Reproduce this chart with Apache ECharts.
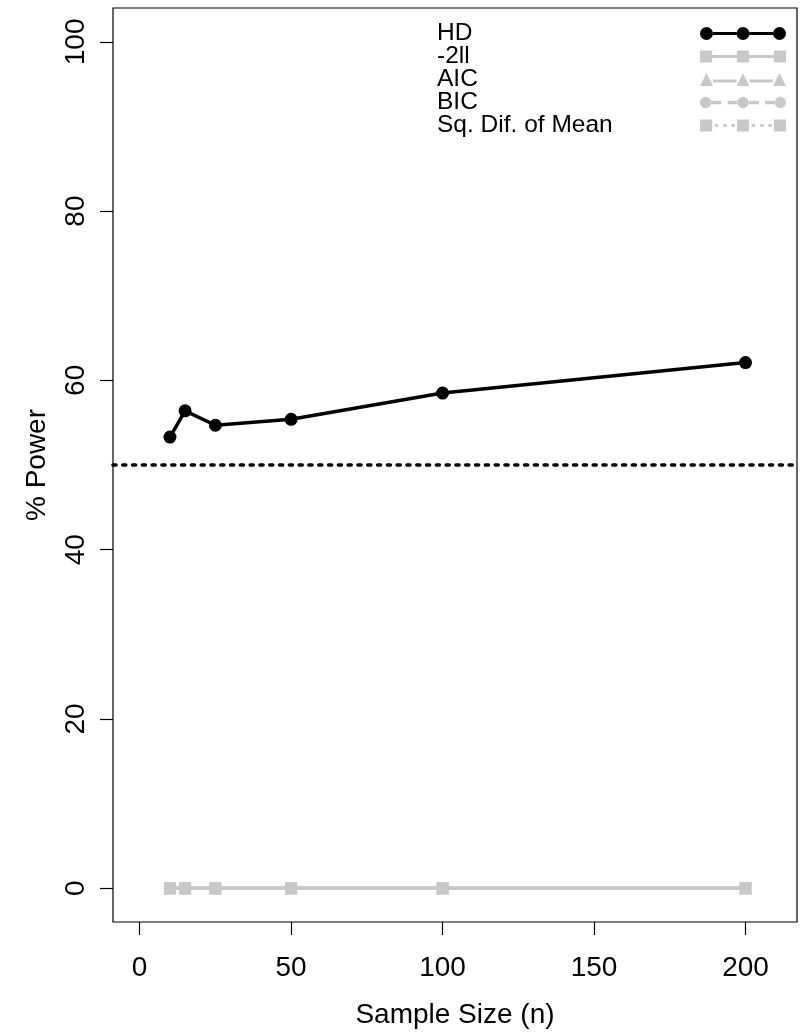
<!DOCTYPE html>
<html>
<head>
<meta charset="utf-8">
<script src="https://cdn.jsdelivr.net/npm/echarts@6/dist/echarts.min.js"></script>
<style>html,body{margin:0;padding:0;background:#fff;}#c{width:801px;height:1033px;}</style>
</head>
<body>
<div id="c"></div>
<script>
// ---- data ----
const sampleSizes = [10, 15, 25, 50, 100, 200];
const seriesNames = ['HD', '-2ll', 'AIC', 'BIC', 'Sq. Dif. of Mean'];
const hdPower = [53.3, 56.4, 54.7, 55.4, 58.5, 62.1];
const ll2Power = [0, 0, 0, 0, 0, 0];
const aicPower = [0, 0, 0, 0, 0, 0];
const bicPower = [0, 0, 0, 0, 0, 0];
const sqDifPower = [0, 0, 0, 0, 0, 0];
const referenceLevel = 50;
const xTicks = [0, 50, 100, 150, 200];
const yTicks = [0, 20, 40, 60, 80, 100];

// ---- legend icon helpers ----
function circ(cx, cy, r) { return `M${cx - r} ${cy} a${r} ${r} 0 1 0 ${2 * r} 0 a${r} ${r} 0 1 0 ${-2 * r} 0 Z`; }
function sq(cx, cy, h) { return `M${cx - h} ${cy - h} h${2 * h} v${2 * h} h${-2 * h} Z`; }
function tri(cx, cy, r) { return `M${cx} ${cy - r} L${cx + r} ${cy + r} L${cx - r} ${cy + r} Z`; }
function seg(x1, x2, cy, t) { return `M${x1} ${cy - t / 2} H${x2} V${cy + t / 2} H${x1} Z`; }
const C = [6.5, 43, 79.5], MY = 6.5;
function icon(marker, segs) {
  let p = C.map(marker).join(' ');
  p += ' ' + segs.map(s => seg(s[0], s[1], s[2] || MY, 3.2)).join(' ');
  return 'path://' + p;
}
const iconHD = icon(c => circ(c, MY, 6.5), [[13, 36.5], [49.5, 73]]);
const iconLL = icon(c => sq(c, MY, 6), [[12.5, 37], [49, 73.5]]);
const iconAIC = icon(c => tri(c, MY, 6.5), [[13, 36.5, 8], [49.5, 73, 8]]);
const iconBIC = icon(c => circ(c, MY, 5.5), [[11.5, 22], [28, 38], [48, 58.5], [64.5, 74.5]]);
const iconSQ = icon(c => sq(c, MY, 6), [[15, 18.5], [23.5, 27], [31.5, 35], [51.5, 55], [60, 63.5], [68, 71.5]]);

const FONT = 'Liberation Sans, Arial, Helvetica, sans-serif';
const GRAY = '#c8c8c8';
const pts = v => sampleSizes.map((x, i) => [x, v[i]]);

const chart = echarts.init(document.getElementById('c'), null, { renderer: 'canvas' });
chart.setOption({
  animation: false,
  backgroundColor: '#fff',
  textStyle: { fontFamily: FONT },
  grid: {
    left: 113, right: 4, top: 8, bottom: 111,
    show: true, borderColor: '#000', borderWidth: 1.2, backgroundColor: 'transparent',
    outerBoundsMode: 'none'
  },
  legend: {
    left: 437, top: 21, orient: 'vertical', align: 'right',
    itemWidth: 86, itemHeight: 13, itemGap: -2, padding: 0,
    selectedMode: false,
    itemStyle: { borderWidth: 0 },
    formatter: name => '{a|' + name + '}',
    textStyle: { rich: { a: { width: 258, fontSize: 24.5, lineHeight: 22, color: '#000', fontFamily: FONT, align: 'left' } } },
    data: [
      { name: seriesNames[0], icon: iconHD },
      { name: seriesNames[1], icon: iconLL },
      { name: seriesNames[2], icon: iconAIC },
      { name: seriesNames[3], icon: iconBIC },
      { name: seriesNames[4], icon: iconSQ }
    ]
  },
  xAxis: {
    type: 'value', min: -8.8, max: 217,
    name: 'Sample Size (n)', nameLocation: 'middle', nameGap: 79,
    nameTextStyle: { fontSize: 28, color: '#000', fontFamily: FONT },
    axisLine: { show: false, onZero: false },
    splitLine: { show: false },
    axisTick: { show: true, customValues: xTicks, length: 13, lineStyle: { color: '#000', width: 1.2 } },
    axisLabel: { customValues: xTicks, fontSize: 28, color: '#000', margin: 32, fontFamily: FONT }
  },
  yAxis: {
    type: 'value', min: -4, max: 104,
    name: '% Power', nameLocation: 'middle', nameGap: 62,
    nameTextStyle: { fontSize: 28, color: '#000', fontFamily: FONT },
    axisLine: { show: false, onZero: false },
    splitLine: { show: false },
    axisTick: { show: true, customValues: yTicks, length: 13, lineStyle: { color: '#000', width: 1.2 } },
    axisLabel: { customValues: yTicks, fontSize: 28, color: '#000', rotate: 90, margin: 23, fontFamily: FONT }
  },
  series: [
    {
      name: seriesNames[0], type: 'line', data: pts(hdPower), z: 5,
      symbol: 'circle', symbolSize: 13,
      itemStyle: { color: '#000' }, lineStyle: { color: '#000', width: 3.5 },
      markLine: {
        silent: true, symbol: ['none', 'none'], label: { show: false },
        lineStyle: { color: '#000', width: 3.6, type: [3, 6.8], cap: 'round' },
        data: [{ yAxis: referenceLevel }]
      }
    },
    {
      name: seriesNames[1], type: 'line', data: pts(ll2Power),
      symbol: 'rect', symbolSize: 12,
      itemStyle: { color: GRAY }, lineStyle: { color: GRAY, width: 3.5 }
    },
    {
      name: seriesNames[2], type: 'line', data: pts(aicPower),
      symbol: 'triangle', symbolSize: 13,
      itemStyle: { color: GRAY }, lineStyle: { color: GRAY, width: 3.5 }
    },
    {
      name: seriesNames[3], type: 'line', data: pts(bicPower),
      symbol: 'circle', symbolSize: 10,
      itemStyle: { color: GRAY }, lineStyle: { color: GRAY, width: 3.5, type: [10, 6] }
    },
    {
      name: seriesNames[4], type: 'line', data: pts(sqDifPower),
      symbol: 'rect', symbolSize: 12,
      itemStyle: { color: GRAY }, lineStyle: { color: GRAY, width: 3.5, type: [3.5, 4.5] }
    }
  ]
});
</script>
</body>
</html>
